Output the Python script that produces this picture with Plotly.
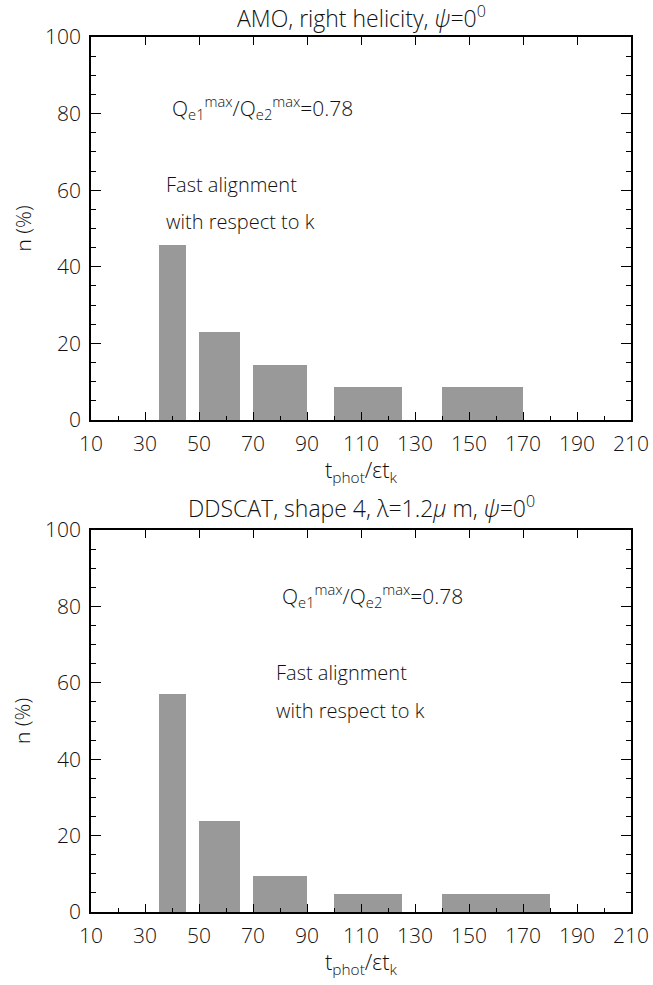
import plotly.graph_objects as go

W, H = 653, 985

# ---- data ----
top_left_edges = [35, 50, 70, 100, 140]
top_right_edges = [45, 65, 90, 125, 170]
top_values = [45.7, 22.9, 14.3, 8.6, 8.6]

bot_left_edges = [35, 50, 70, 100, 140]
bot_right_edges = [45, 65, 90, 125, 180]
bot_values = [57.1, 23.8, 9.5, 4.8, 4.8]

x_tickvals = list(range(10, 211, 20))
y_tickvals = list(range(0, 101, 20))

top_title = "AMO, right helicity, <i>\u03c8</i>=0<sup>0</sup>"
bot_title = "DDSCAT, shape 4, \u03bb=1.2<i>\u03bc</i> m, <i>\u03c8</i>=0<sup>0</sup>"
x_title = "t<sub>phot</sub>/\u03b5t<sub>k</sub>"
y_title = "n (%)"
ratio_text = "Q<sub>e1</sub><sup>max</sup>/Q<sub>e2</sub><sup>max</sup>=0.78"
note1 = "Fast alignment"
note2 = "with respect to k"

FONT = "Open Sans"
WEIGHT = 300
TXT = "#111111"
BAR = "#999999"

# ---- geometry (pixels) ----
X0, X1 = 91, 631
TOP_Y0, TOP_Y1 = 37, 420
BOT_Y0, BOT_Y1 = 530, 912


def px(x):
    return x / W


def py(y):
    return 1 - y / H


fig = go.Figure()


def bars(left, right, vals, xa, ya):
    centers = [(l + r) / 2 for l, r in zip(left, right)]
    widths = [r - l for l, r in zip(left, right)]
    fig.add_trace(go.Bar(x=centers, y=vals, width=widths, marker=dict(color=BAR, line=dict(width=0)),
                         xaxis=xa, yaxis=ya, showlegend=False, hoverinfo="skip"))


bars(top_left_edges, top_right_edges, top_values, "x", "y")
bars(bot_left_edges, bot_right_edges, bot_values, "x2", "y2")
# empty traces for the top-side tick axes
fig.add_trace(go.Scatter(x=[], y=[], xaxis="x3", yaxis="y", showlegend=False))
fig.add_trace(go.Scatter(x=[], y=[], xaxis="x4", yaxis="y2", showlegend=False))

tickfont = dict(family=FONT, size=21, color=TXT, weight=WEIGHT)


def xaxis_cfg(anchor):
    return dict(domain=[px(X0), px(X1)], anchor=anchor, range=[10, 210], tickvals=x_tickvals,
                ticks="inside", ticklen=8, tickwidth=1.3, tickcolor="black",
                minor=dict(dtick=10, tick0=10, ticks="inside", ticklen=4, tickwidth=1.3, tickcolor="black"),
                showline=True, linecolor="black", linewidth=1.6, mirror=True, automargin=False,
                showgrid=False, zeroline=False, tickfont=tickfont, ticklabelstandoff=4)


def xtop_cfg(over, anchor):
    return dict(domain=[px(X0), px(X1)], overlaying=over, anchor=anchor, side="top", range=[10, 210],
                tickvals=x_tickvals, ticks="inside", ticklen=8, tickwidth=1.3, tickcolor="black",
                showticklabels=False, showline=False, showgrid=False, zeroline=False, automargin=False)


def yaxis_cfg(anchor, y0, y1):
    return dict(domain=[py(y1), py(y0)], anchor=anchor, range=[0, 100], tickvals=y_tickvals,
                ticks="inside", ticklen=10, tickwidth=1.3, tickcolor="black",
                minor=dict(dtick=5, tick0=0, ticks="inside", ticklen=5, tickwidth=1.3, tickcolor="black"),
                showline=True, linecolor="black", linewidth=1.6, mirror="ticks", automargin=False,
                showgrid=False, zeroline=False, tickfont=tickfont, ticklabelstandoff=4)


fig.update_layout(
    width=W, height=H, margin=dict(l=0, r=0, t=0, b=0, autoexpand=False),
    paper_bgcolor="white", plot_bgcolor="white", bargap=0,
    xaxis=xaxis_cfg("y"), yaxis=yaxis_cfg("x", TOP_Y0, TOP_Y1),
    xaxis2=xaxis_cfg("y2"), yaxis2=yaxis_cfg("x2", BOT_Y0, BOT_Y1),
    xaxis3=xtop_cfg("x", "y"), xaxis4=xtop_cfg("x2", "y2"),
    showlegend=False,
)

ann = []
tf = dict(family=FONT, size=23, color=TXT, weight=WEIGHT)
lf = dict(family=FONT, size=22, color=TXT, weight=WEIGHT)
yf_ = dict(family=FONT, size=21, color=TXT, weight=WEIGHT)
cx = (X0 + X1) / 2


def pann(text, x, y, font, **kw):
    d = dict(text=text, x=px(x), y=py(y), xref="paper", yref="paper", showarrow=False,
             xanchor="center", yanchor="middle", font=font)
    d.update(kw)
    ann.append(d)


pann(top_title, cx, 17, tf)
pann(bot_title, cx, 507, tf)
pann(x_title, cx, 471, lf)
pann(x_title, cx, 963, lf)
for yc in [(TOP_Y0 + TOP_Y1) / 2, (BOT_Y0 + BOT_Y1) / 2]:
    pann(y_title, 22, yc, yf_, textangle=-90)

af = dict(family=FONT, size=20, color=TXT, weight=WEIGHT)
rf = dict(family=FONT, size=21, color=TXT, weight=WEIGHT)
for (xr, yr, xq, xn, yq, yf, yw) in [("x", "y", 39.3, 37.0, 81.5, 61.5, 51.8),
                                     ("x2", "y2", 80.1, 77.7, 82.8, 62.6, 52.8)]:
    ann.append(dict(text=ratio_text, x=xq, y=yq, xref=xr, yref=yr, xanchor="left", yanchor="middle",
                    showarrow=False, font=rf))
    for t, yv in [(note1, yf), (note2, yw)]:
        ann.append(dict(text=t, x=xn, y=yv, xref=xr, yref=yr, xanchor="left", yanchor="middle",
                        showarrow=False, font=af))

fig.update_layout(annotations=ann)
fig.write_html("out.html", post_script="document.body.style.margin='0';",
               config={"displayModeBar": False})
